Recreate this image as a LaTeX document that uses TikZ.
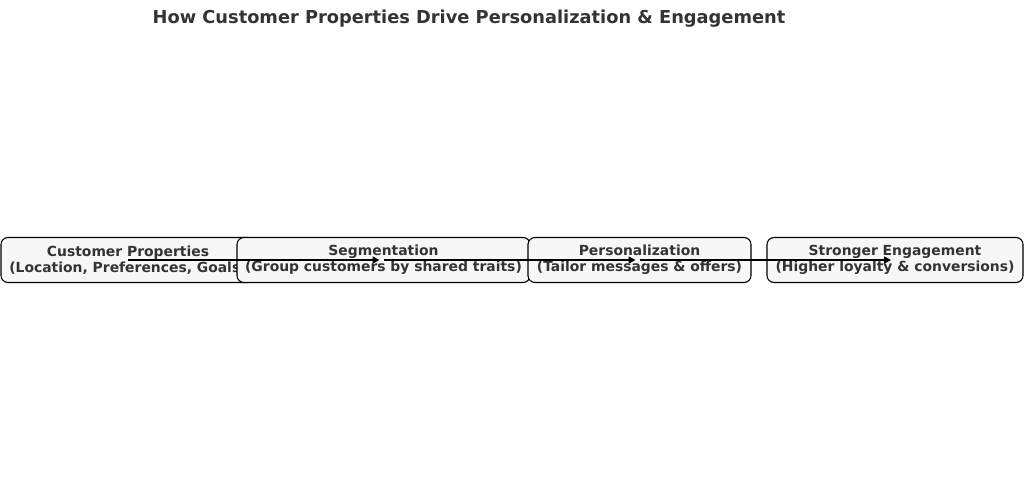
\documentclass[tikz,border=0pt]{standalone}
\usepackage{fontspec}
\setmainfont{DejaVu Sans}
\usetikzlibrary{arrows.meta}
\definecolor{txt}{HTML}{333333}
\definecolor{boxfill}{HTML}{F7F7F7}
\begin{document}
\begin{tikzpicture}[x=1pt,y=-1pt,
  stagebox/.style={draw=black, fill=boxfill, rounded corners=7pt, line width=1.1pt,
    minimum height=45pt, inner sep=0pt, align=center, text=txt,
    font=\fontsize{13.9}{16}\selectfont\bfseries},
  flow/.style={-{Triangle[length=7pt,width=7pt]}, line width=1.6pt, black}]
\useasboundingbox (0,0) rectangle (1024,481);
\node[text=txt, font=\fontsize{17.8}{20}\selectfont\bfseries] (title) at (469,18.5) {How Customer Properties Drive Personalization \& Engagement};
\node[stagebox, minimum width=254pt] (b1) at (128,260) {Customer Properties\\(Location, Preferences, Goals)};
\node[stagebox, minimum width=293pt] (b2) at (383.5,260) {Segmentation\\(Group customers by shared traits)};
\node[stagebox, minimum width=223pt] (b3) at (639.5,260) {Personalization\\(Tailor messages \& offers)};
\node[stagebox, minimum width=256pt] (b4) at (895,260) {Stronger Engagement\\(Higher loyalty \& conversions)};
\draw[flow, shorten >=4pt] (b1.center) -- (b2.center);
\draw[flow, shorten >=4pt] (b2.center) -- (b3.center);
\draw[flow, shorten >=4pt] (b3.center) -- (b4.center);
\end{tikzpicture}
\end{document}
